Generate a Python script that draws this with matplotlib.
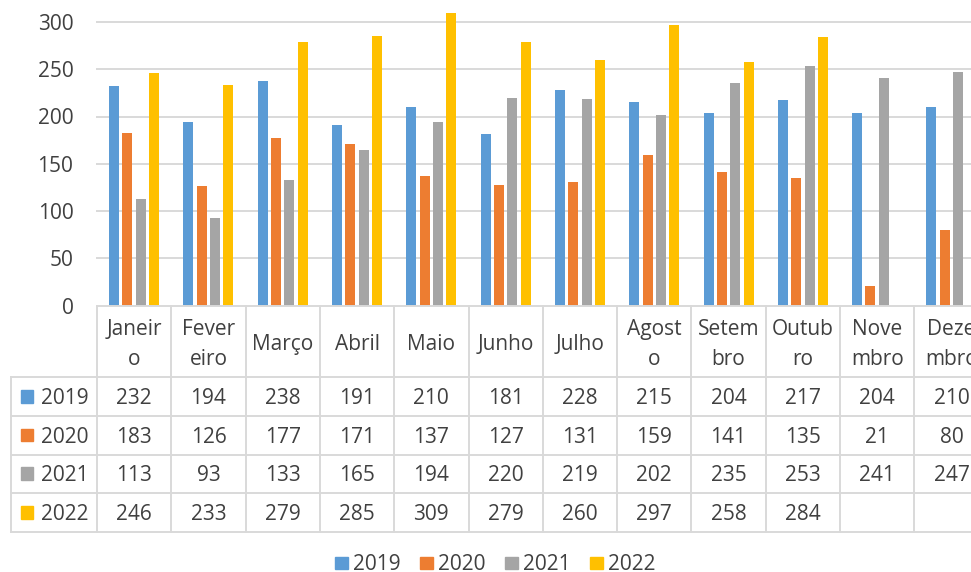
import numpy as np
import matplotlib
matplotlib.use("Agg")
import matplotlib.pyplot as plt
from matplotlib import transforms
from matplotlib.lines import Line2D
from matplotlib.patches import Rectangle

plt.rcParams['font.family'] = ['Open Sans', 'DejaVu Sans']

categories = ["Janeiro", "Fevereiro", "Março", "Abril", "Maio", "Junho",
              "Julho", "Agosto", "Setembro", "Outubro", "Novembro", "Dezembro"]
cat_lines = [["Janeir", "o"], ["Fever", "eiro"], ["Março"], ["Abril"], ["Maio"],
             ["Junho"], ["Julho"], ["Agost", "o"], ["Setem", "bro"], ["Outub", "ro"],
             ["Nove", "mbro"], ["Deze", "mbro"]]
series_names = ["2019", "2020", "2021", "2022"]
v2019 = [232, 194, 238, 191, 210, 181, 228, 215, 204, 217, 204, 210]
v2020 = [183, 126, 177, 171, 137, 127, 131, 159, 141, 135, 21, 80]
v2021 = [113, 93, 133, 165, 194, 220, 219, 202, 235, 253, 241, 247]
v2022 = [246, 233, 279, 285, 309, 279, 260, 297, 258, 284, None, None]
series = [v2019, v2020, v2021, v2022]
colors = ["#5B9BD5", "#ED7D31", "#A5A5A5", "#FFC000"]
yticks = [0, 50, 100, 150, 200, 250, 300]

W, H = 971, 572
fig = plt.figure(figsize=(W / 100, H / 100), dpi=100)

def fy(y):
    return 1 - y / H

def fx(x):
    return x / W

ax_left, ax_right, ax_top, ax_bot = 97, 97 + 12 * 74.3, 22, 305.5
ax = fig.add_axes([fx(ax_left), fy(ax_bot), (ax_right - ax_left) / W, (ax_bot - ax_top) / H])
ax.set_xlim(-0.5, len(categories) - 0.5)
ax.set_ylim(0, 300)

text_color = "#404040"
grid_color = "#D9D9D9"

x = np.arange(len(categories))
bw = 10 / 74.3
step = 13.33 / 74.3
for k, (vals, c) in enumerate(zip(series, colors)):
    arr = np.array([np.nan if v is None else v for v in vals], dtype=float)
    ax.bar(x + (k - 1.5) * step, arr, width=bw, color=c, clip_on=False, zorder=3)

ax.set_yticks(yticks)
ax.set_yticklabels([str(t) for t in yticks], fontsize=15, color=text_color)
ax.tick_params(axis='y', length=0, pad=17)
ax.set_xticks([])
for s in ax.spines.values():
    s.set_visible(False)
for t in yticks[1:]:
    ax.axhline(t, color=grid_color, lw=1.4, zorder=1, clip_on=False)

# data table
bt = transforms.blended_transform_factory(ax.transData, fig.transFigure)
row_edges = [305.5, 377, 416, 454.7, 493, 532]
lw = 1.4
for y in row_edges:
    fig.add_artist(Line2D([fx(ax_left), fx(ax_right)], [fy(y), fy(y)], color=grid_color, lw=lw))
for y in row_edges[1:]:
    fig.add_artist(Line2D([fx(11), fx(ax_left)], [fy(y), fy(y)], color=grid_color, lw=lw))
for i in range(len(categories) + 1):
    fig.add_artist(Line2D([i - 0.5, i - 0.5], [fy(305.5), fy(532)], color=grid_color, lw=lw, transform=bt))
fig.add_artist(Line2D([fx(11), fx(11)], [fy(377), fy(532)], color=grid_color, lw=lw))

# category labels
for i, lines in enumerate(cat_lines):
    if len(lines) == 1:
        fig.text(i, fy(350), lines[0], transform=bt, ha='center', va='baseline',
                 fontsize=15, color=text_color)
    else:
        fig.text(i, fy(335), lines[0], transform=bt, ha='center', va='baseline',
                 fontsize=15, color=text_color)
        fig.text(i, fy(365), lines[1], transform=bt, ha='center', va='baseline',
                 fontsize=15, color=text_color)

# rows
for r, (name, vals, c) in enumerate(zip(series_names, series, colors)):
    top, bot = row_edges[r + 1], row_edges[r + 2]
    base = (top + bot) / 2 + 7.5
    fig.add_artist(Rectangle((fx(20.5), fy(base - 1.5)), 12.5 / W, 12.5 / H, color=c))
    fig.text(fx(41.5), fy(base), name, ha='left', va='baseline', fontsize=15, color=text_color)
    for i, v in enumerate(vals):
        if v is None:
            continue
        fig.text(i, fy(base), str(v), transform=bt, ha='center', va='baseline',
                 fontsize=15, color=text_color)

# legend
lx = 335
for name, c in zip(series_names, colors):
    fig.add_artist(Rectangle((fx(lx), fy(569)), 12.5 / W, 12.5 / H, color=c))
    fig.text(fx(lx + 18), fy(570), name, ha='left', va='baseline', fontsize=15, color=text_color)
    lx += 85

fig.savefig("out.png", dpi=100)
